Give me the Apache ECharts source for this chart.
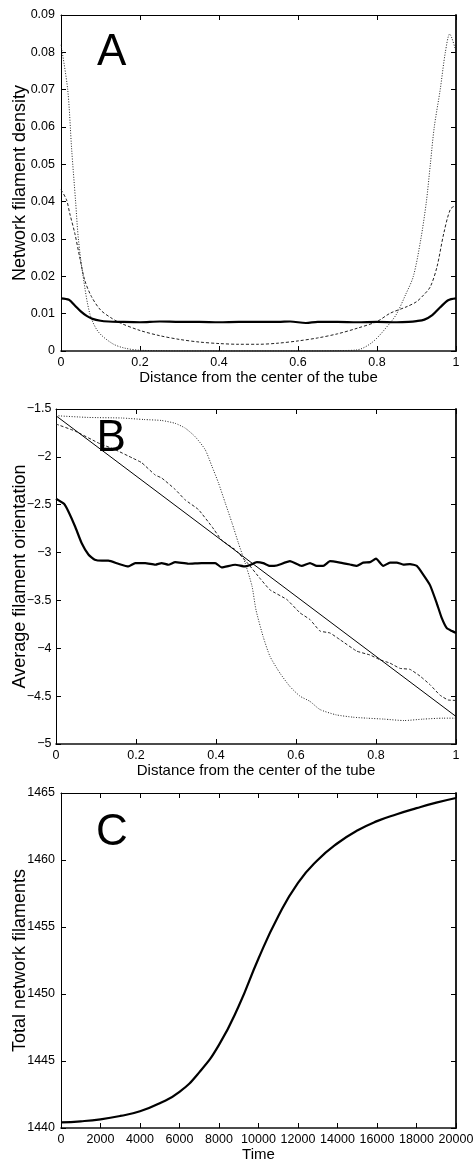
<!DOCTYPE html>
<html>
<head>
<meta charset="utf-8">
<script src="https://cdn.jsdelivr.net/npm/echarts@6/dist/echarts.min.js"></script>
<style>
html,body{margin:0;padding:0;background:#fff;}
#chart{width:473px;height:1165px;}
</style>
</head>
<body>
<div id="chart"></div>
<script>
// ---------- Panel A: Network filament density ----------
const aSolidX = [0,0.02,0.035,0.05,0.065,0.08,0.1,0.12,0.15,0.2,0.25,0.3,0.35,0.4,0.45,0.5,0.55,0.58,0.62,0.65,0.7,0.75,0.8,0.85,0.88,0.9,0.92,0.94,0.96,0.98,1.0];
const aSolidY = [0.0141,0.0137,0.0122,0.0106,0.0094,0.0086,0.0081,0.0079,0.0078,0.0077,0.0079,0.0078,0.0078,0.0077,0.0078,0.0078,0.0078,0.0079,0.0075,0.0078,0.0078,0.0077,0.0078,0.0077,0.0078,0.0080,0.0084,0.0096,0.0117,0.0136,0.0141];
const aDashX = [0,0.014,0.022,0.035,0.047,0.06,0.077,0.1,0.125,0.15,0.2,0.25,0.3,0.35,0.4,0.45,0.5,0.55,0.6,0.65,0.7,0.75,0.8,0.833,0.876,0.9,0.918,0.935,0.952,0.969,0.986,1.0];
const aDashY = [0.0432,0.0405,0.0369,0.0315,0.0253,0.019,0.0146,0.011,0.009,0.0075,0.0055,0.0041,0.0031,0.0024,0.002,0.0018,0.0018,0.0021,0.0027,0.0035,0.0046,0.0061,0.0079,0.0101,0.0119,0.0132,0.015,0.0172,0.0226,0.0315,0.038,0.039];
const aDotX = [0,0.017,0.027,0.037,0.044,0.056,0.073,0.094,0.13,0.16,0.2,0.25,0.3,0.4,0.5,0.6,0.65,0.7,0.75,0.79,0.833,0.85,0.872,0.892,0.911,0.925,0.935,0.945,0.96,0.973,0.984,1.0];
const aDotY = [0.082,0.07,0.054,0.04,0.03,0.02,0.01,0.0052,0.002,0.0008,0.0002,0.0001,0,0,0,0,0,0.0001,0.0003,0.0025,0.0075,0.01,0.015,0.02,0.03,0.04,0.05,0.06,0.07,0.08,0.0849,0.0802];

// ---------- Panel B: Average filament orientation ----------
const bLineX = [0, 1];
const bLineY = [-1.5708, -4.7124];
const bSolidX = [0,0.02,0.031,0.048,0.064,0.081,0.097,0.115,0.131,0.156,0.181,0.198,0.223,0.248,0.264,0.281,0.298,0.331,0.364,0.398,0.414,0.448,0.473,0.485,0.502,0.518,0.535,0.552,0.585,0.614,0.635,0.652,0.668,0.685,0.71,0.735,0.752,0.768,0.785,0.8,0.818,0.835,0.852,0.868,0.885,0.902,0.918,0.935,0.952,0.964,0.977,0.99,1.0];
const bSolidY = [-2.437,-2.49,-2.57,-2.73,-2.90,-3.02,-3.075,-3.085,-3.085,-3.117,-3.145,-3.11,-3.11,-3.127,-3.11,-3.127,-3.10,-3.117,-3.11,-3.11,-3.155,-3.127,-3.145,-3.13,-3.10,-3.11,-3.14,-3.135,-3.09,-3.14,-3.11,-3.14,-3.14,-3.09,-3.105,-3.125,-3.14,-3.105,-3.10,-3.064,-3.14,-3.105,-3.105,-3.125,-3.12,-3.14,-3.23,-3.34,-3.53,-3.68,-3.79,-3.82,-3.84];
const bDashX = [0,0.0475,0.106,0.148,0.19,0.214,0.248,0.264,0.298,0.323,0.356,0.39,0.414,0.448,0.481,0.51,0.535,0.577,0.61,0.635,0.66,0.685,0.71,0.752,0.785,0.81,0.835,0.86,0.885,0.91,0.935,0.96,0.98,1.0];
const bDashY = [-1.657,-1.73,-1.855,-1.925,-2.01,-2.06,-2.19,-2.22,-2.34,-2.45,-2.55,-2.73,-2.87,-2.97,-3.12,-3.27,-3.39,-3.49,-3.63,-3.70,-3.82,-3.84,-3.91,-4.03,-4.07,-4.12,-4.155,-4.21,-4.22,-4.29,-4.38,-4.49,-4.54,-4.545];
const bDotX = [0,0.08,0.164,0.22,0.264,0.298,0.323,0.348,0.373,0.39,0.406,0.423,0.44,0.456,0.473,0.49,0.50,0.518,0.535,0.56,0.585,0.61,0.635,0.66,0.70,0.743,0.777,0.82,0.87,0.918,0.968,1.0];
const bDotY = [-1.57,-1.588,-1.594,-1.61,-1.62,-1.65,-1.70,-1.79,-1.925,-2.10,-2.27,-2.48,-2.69,-2.90,-3.11,-3.35,-3.60,-3.88,-4.085,-4.26,-4.40,-4.50,-4.555,-4.64,-4.695,-4.72,-4.73,-4.74,-4.755,-4.74,-4.73,-4.73];

// ---------- Panel C: Total network filaments ----------
const cTime = [0,1000,2000,3000,4000,5000,6000,7000,8000,9000,10000,11000,12000,13000,14000,15000,16000,17000,18000,19000,20000];
const cTotal = [1440.42,1440.5,1440.65,1440.9,1441.25,1441.85,1442.7,1444.15,1446.2,1449.1,1452.65,1455.8,1458.3,1460.0,1461.25,1462.2,1462.9,1463.42,1463.87,1464.28,1464.63];

// axis texts
const xTitleAB = 'Distance from the center of the tube';
const xTitleC = 'Time';
const yTitles = ['Network filament density', 'Average filament orientation', 'Total network filaments'];
const panelLetters = ['A', 'B', 'C'];

const FONT = "'Liberation Sans', Arial, Helvetica, sans-serif";
const pairs = (xs, ys) => xs.map((x, i) => [x, ys[i]]);
const minus = v => String(v).replace('-', '\u2212');

const grids = [
  {left: 61, top: 15, width: 395, height: 336, containLabel: false, outerBoundsMode: 'none'},
  {left: 56, top: 409, width: 400, height: 335, containLabel: false, outerBoundsMode: 'none'},
  {left: 61, top: 793, width: 395, height: 335, containLabel: false, outerBoundsMode: 'none'}
];
const xRanges = [{min:0,max:1,interval:0.2},{min:0,max:1,interval:0.2},{min:0,max:20000,interval:2000}];
const yRanges = [{min:0,max:0.09,interval:0.01},{min:-5,max:-1.5,interval:0.5},{min:1440,max:1465,interval:5}];
const labelSize = [12.5, 12.5, 12.5];
const yMargin = [6, 4.5, 6];
const yNameGap = [32, 27, 32];

const xAxes = [], yAxes = [];
for (let i = 0; i < 3; i++) {
  xAxes.push({
    gridIndex: i, type: 'value', position: 'bottom', ...xRanges[i],
    name: i < 2 ? xTitleAB : xTitleC, nameLocation: 'middle', nameGap: 19, nameMoveOverlap: false,
    nameTextStyle: {fontFamily: FONT, fontSize: 15, color: '#000'},
    axisLine: {show: true, onZero: false, lineStyle: {color: '#111', width: 1.6}},
    axisTick: {show: true, inside: true, length: 5, lineStyle: {color: '#000', width: 1}},
    axisLabel: {fontFamily: FONT, fontSize: labelSize[i], color: '#000', margin: 5, formatter: minus, hideOverlap: false},
    splitLine: {show: false}
  });
  xAxes.push({
    gridIndex: i, type: 'value', position: 'top', ...xRanges[i],
    axisLine: {show: true, onZero: false, lineStyle: {color: '#000', width: 1}},
    axisTick: {show: true, inside: true, length: 5, lineStyle: {color: '#000', width: 1}},
    axisLabel: {show: false}, splitLine: {show: false}
  });
  yAxes.push({
    gridIndex: i, type: 'value', position: 'left', ...yRanges[i],
    name: yTitles[i], nameLocation: 'middle', nameGap: yNameGap[i], nameMoveOverlap: false,
    nameTextStyle: {fontFamily: FONT, fontSize: 18, color: '#000'},
    axisLine: {show: true, onZero: false, lineStyle: {color: '#000', width: 1}},
    axisTick: {show: true, inside: true, length: 5, lineStyle: {color: '#000', width: 1}},
    axisLabel: {fontFamily: FONT, fontSize: labelSize[i], color: '#000', margin: yMargin[i], formatter: minus},
    splitLine: {show: false}
  });
  yAxes.push({
    gridIndex: i, type: 'value', position: 'right', ...yRanges[i],
    axisLine: {show: true, onZero: false, lineStyle: {color: '#222', width: 2}},
    axisTick: {show: true, inside: true, length: 5, lineStyle: {color: '#000', width: 1}},
    axisLabel: {show: false}, splitLine: {show: false}
  });
}

const thick = {color: '#000', width: 2.2, type: 'solid'};
const dashed = {color: '#222', width: 1, type: [3, 2]};
const dotted = {color: '#222', width: 1, type: [1, 1.6]};
const thin = {color: '#000', width: 1, type: 'solid'};
const mk = (xi, yi, data, ls, smooth) => ({
  type: 'line', xAxisIndex: xi, yAxisIndex: yi, data, symbol: 'none', showSymbol: false,
  lineStyle: ls, smooth: smooth, animation: false, z: 3
});

const letterPos = [[97, 53.3], [96.5, 438.7], [96, 833]];

const option = {
  animation: false,
  backgroundColor: '#fff',
  textStyle: {fontFamily: FONT},
  grid: grids,
  xAxis: xAxes,
  yAxis: yAxes,
  series: [
    mk(0, 0, pairs(aDotX, aDotY), dotted, 0.3),
    mk(0, 0, pairs(aDashX, aDashY), dashed, 0.3),
    mk(0, 0, pairs(aSolidX, aSolidY), thick, 0.3),
    mk(2, 2, pairs(bDotX, bDotY), dotted, 0.2),
    mk(2, 2, pairs(bDashX, bDashY), dashed, 0.1),
    mk(2, 2, pairs(bLineX, bLineY), thin, false),
    mk(2, 2, pairs(bSolidX, bSolidY), thick, 0.15),
    mk(4, 4, pairs(cTime, cTotal), thick, 0.5)
  ],
  graphic: panelLetters.map((t, i) => ({
    type: 'text', x: letterPos[i][0], y: letterPos[i][1], z: 10,
    style: {text: t, font: '44px ' + FONT, fill: '#000', verticalAlign: 'middle', align: 'left'}
  }))
};

const chart = echarts.init(document.getElementById('chart'), null, {renderer: 'canvas'});
chart.setOption(option);
</script>
</body>
</html>
